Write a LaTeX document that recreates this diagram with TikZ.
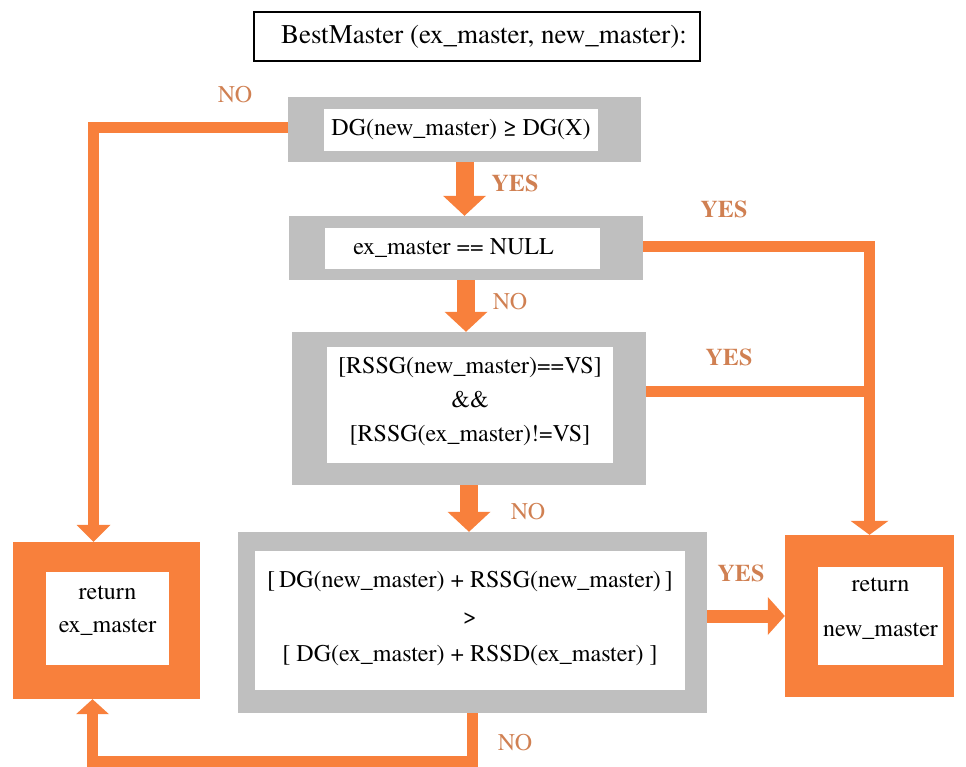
\documentclass[tikz,border=0pt]{standalone}
\usepackage{fontspec}
\setmainfont{texgyretermes}[Extension=.otf, UprightFont=*-regular, BoldFont=*-bold,
  ItalicFont=*-italic, BoldItalicFont=*-bolditalic]
\usetikzlibrary{arrows.meta}
\definecolor{flowor}{RGB}{248,128,60}
\definecolor{flowgray}{RGB}{191,191,191}
\definecolor{flowlab}{RGB}{208,128,82}

\begin{document}
\begin{tikzpicture}[x=1pt,y=-1pt,
  outerbox/.style={rectangle, draw=none, fill=flowgray, inner sep=0pt},
  retbox/.style={rectangle, draw=none, fill=flowor, inner sep=0pt},
  textbox/.style={rectangle, draw=none, fill=white, inner sep=0pt, align=center},
  bigflow/.style={draw=flowor, line width=18pt, line join=miter,
    -{Triangle[width=43pt,length=20pt,line width=0pt]}},
  thinflow/.style={draw=flowor, line width=11pt, line join=miter},
  yeslab/.style={text=flowlab, font=\rmfamily\fontsize{24}{28}\selectfont\bfseries},
  nolab/.style={text=flowlab, font=\rmfamily\fontsize{24}{28}\selectfont},
]
\useasboundingbox (0,0) rectangle (966,767);

% heading
\node[draw=black, line width=2pt, fill=white, minimum width=446pt, minimum height=49pt,
  inner sep=0pt, font=\rmfamily\fontsize{27}{30}\selectfont] (title) at (477,36.5)
  {\hspace*{14pt}BestMaster (ex\_master, new\_master):};

% decision boxes: grey frame with white text field
\node[outerbox, minimum width=353pt, minimum height=65pt] (b1) at (464.5,129.5) {};
\node[textbox, minimum width=274pt, minimum height=42pt, font=\rmfamily\fontsize{24}{30}\selectfont]
  (b1t) at (461,130) {DG(new\_master) ≥ DG(X)};

\node[outerbox, minimum width=354pt, minimum height=64pt] (b2) at (466,248) {};
\node[textbox, minimum width=275pt, minimum height=41pt, font=\rmfamily\fontsize{24}{30}\selectfont]
  (b2t) at (462.5,248.5) {ex\_master == NULL\hspace*{18pt}};

\node[outerbox, minimum width=354pt, minimum height=153pt] (b3) at (469,408.5) {};
\node[textbox, minimum width=286pt, minimum height=116pt, font=\rmfamily\fontsize{24}{34}\selectfont,
  text depth=11pt]
  (b3t) at (470,405)
  {{[RSSG(new\_master)==VS]}\\{\&\&\hspace*{22pt}}\\{[RSSG(ex\_master)!=VS]}};

\node[outerbox, minimum width=469pt, minimum height=181pt] (b4) at (472.5,622.5) {};
\node[textbox, minimum width=430pt, minimum height=139pt, font=\rmfamily\fontsize{24}{37}\selectfont,
  text depth=9pt]
  (b4t) at (470,620.5)
  {{[\,DG(new\_master) + RSSG(new\_master)\,]}\\{>}\\{[ DG(ex\_master) + RSSD(ex\_master) ]}};

% result boxes: orange frame with white text field
\node[retbox, minimum width=187pt, minimum height=157pt] (ex) at (106.5,620.5) {};
\node[textbox, minimum width=123pt, minimum height=93pt, font=\rmfamily\fontsize{24}{33}\selectfont,
  text depth=19pt]
  (ext) at (107.5,618.5) {return\\ex\_master};

\node[retbox, minimum width=169pt, minimum height=162pt] (nw) at (869.5,616) {};
\node[textbox, minimum width=125pt, minimum height=98pt, font=\rmfamily\fontsize{24}{45}\selectfont,
  text depth=17pt]
  (nwt) at (880.5,616) {return\\new\_master};

% main downward flow
\draw[bigflow] (b1.south) -- (b1.south |- b2.north);
\draw[bigflow] (b2.south) -- (b2.south |- b3.north);
\draw[bigflow] (b3.south) -- (b3.south |- b4.north);

% branches
\draw[thinflow, -{Triangle[width=34pt,length=17pt,line width=0pt]}]
  ([yshift=2pt]b1.west) -| ([xshift=-13pt]ex.north);
\draw[thinflow, -{Triangle[width=38pt,length=14pt,line width=0pt]}]
  ([yshift=1pt]b2.east) -| (nw.north);
\draw[thinflow] ([yshift=17.5pt]b3.east) -- ([yshift=17.5pt]b3.east -| nw.north);
\draw[thinflow, line width=13pt, -{Triangle[width=38pt,length=17pt,line width=0pt]}]
  (b4.east |- nw.west) -- (nw.west);
\draw[thinflow, -{Triangle[width=33pt,length=15pt,line width=0pt]}]
  (b4.south) -- ++(0,48) -| ([xshift=-14pt]ex.south);

% branch labels
\node[nolab] (l1) at (235,95) {NO};
\node[yeslab] (l2) at (515,183) {YES};
\node[nolab] (l3) at (510,302) {NO};
\node[nolab] (l4) at (528,512) {NO};
\node[nolab] (l5) at (515,743) {NO};
\node[yeslab] (l6) at (724,209) {YES};
\node[yeslab] (l7) at (729,357) {YES};
\node[yeslab] (l8) at (741,573) {YES};
\end{tikzpicture}
\end{document}
